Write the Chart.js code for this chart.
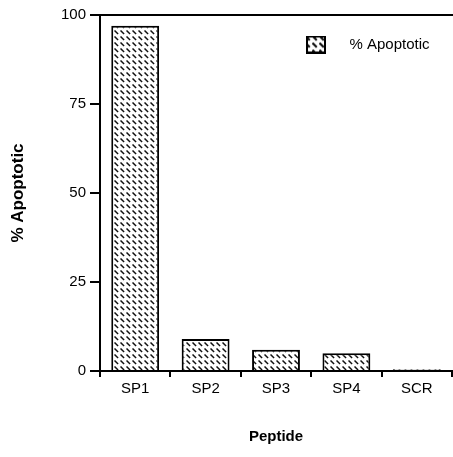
<!DOCTYPE html>
<html><head><meta charset="utf-8">
<script src="https://cdn.jsdelivr.net/npm/chart.js@4"></script>
<style>html,body{margin:0;padding:0;background:#fff;}#wrap{width:453px;height:457px;}</style>
</head><body><div id="wrap"><canvas id="c" width="453" height="457"></canvas></div>
<script>
const categories = ['SP1', 'SP2', 'SP3', 'SP4', 'SCR'];
const apoptotic = [97, 9, 6, 5, 0.5];
const yTicks = [0, 25, 50, 75, 100];
const seriesLabel = '% Apoptotic';

function makeTile(size, lw) {
  const t = document.createElement('canvas');
  t.width = size; t.height = size;
  const g = t.getContext('2d');
  g.fillStyle = '#fff'; g.fillRect(0, 0, size, size);
  g.strokeStyle = '#111'; g.lineWidth = lw;
  g.beginPath(); g.moveTo(0.5, 0.5); g.lineTo(size * 0.68, size * 0.68); g.stroke();
  return t;
}
const ctx = document.getElementById('c').getContext('2d');
const pat = ctx.createPattern(makeTile(6, 1.5), 'repeat');

// legend icon: transparent lead-in, then the hatched box
function legendIcon(width, boxX) {
  const c = document.createElement('canvas');
  c.width = width; c.height = 18;
  const g = c.getContext('2d');
  g.fillStyle = g.createPattern(makeTile(7, 2.2), 'repeat');
  g.fillRect(boxX + 1, 1, 18, 16);
  g.strokeStyle = '#000'; g.lineWidth = 2;
  g.strokeRect(boxX + 1, 1, 18, 16);
  return c;
}

Chart.defaults.font.family = 'Arial, "Liberation Sans", Helvetica, sans-serif';
Chart.defaults.color = '#000';

new Chart(ctx, {
  type: 'bar',
  data: {
    labels: categories,
    datasets: [{
      label: seriesLabel,
      data: apoptotic,
      backgroundColor: pat,
      borderColor: '#000',
      borderWidth: 2,
      borderSkipped: 'bottom',
      categoryPercentage: 1,
      barPercentage: 0.68
    }]
  },
  options: {
    responsive: false,
    animation: false,
    devicePixelRatio: 1,
    layout: { padding: { top: 15, right: 1, left: 0, bottom: 0 } },
    plugins: {
      tooltip: { enabled: false },
      legend: {
        position: 'chartArea',
        align: 'start',
        labels: {
          usePointStyle: true,
          pointStyle: legendIcon(205, 169),
          pointStyleWidth: 205,
          font: { size: 15 },
          color: '#000',
          padding: 37
        }
      }
    },
    scales: {
      x: {
        position: 'bottom',
        grid: { display: true, drawOnChartArea: false, offset: true, color: '#000', tickLength: 6, lineWidth: 2 },
        border: { display: true, color: '#000', width: 2 },
        ticks: { font: { size: 15 }, color: '#000', padding: 3 },
        title: { display: true, text: 'Peptide', font: { size: 15, weight: 'bold' }, color: '#000', padding: { top: 0, bottom: 11 } },
        afterFit: (s) => { s.height = 86; }
      },
      xTop: {
        position: 'top',
        type: 'category',
        labels: categories,
        grid: { display: false },
        ticks: { display: false },
        border: { display: true, color: '#000', width: 2 },
        afterFit: (s) => { s.height = 0; }
      },
      y: {
        min: 0, max: 100,
        afterBuildTicks: (s) => { s.ticks = yTicks.map(v => ({ value: v })); },
        grid: { display: true, drawOnChartArea: false, color: '#000', tickLength: 10, lineWidth: 2 },
        border: { display: true, color: '#000', width: 2 },
        ticks: { font: { size: 15 }, color: '#000', padding: 4 },
        title: { display: true, text: '% Apoptotic', font: { size: 17, weight: 'bold' }, color: '#000', padding: { top: 8, bottom: 0 } },
        afterFit: (s) => { s.width = 100; }
      }
    }
  }
});
</script>
</body></html>
